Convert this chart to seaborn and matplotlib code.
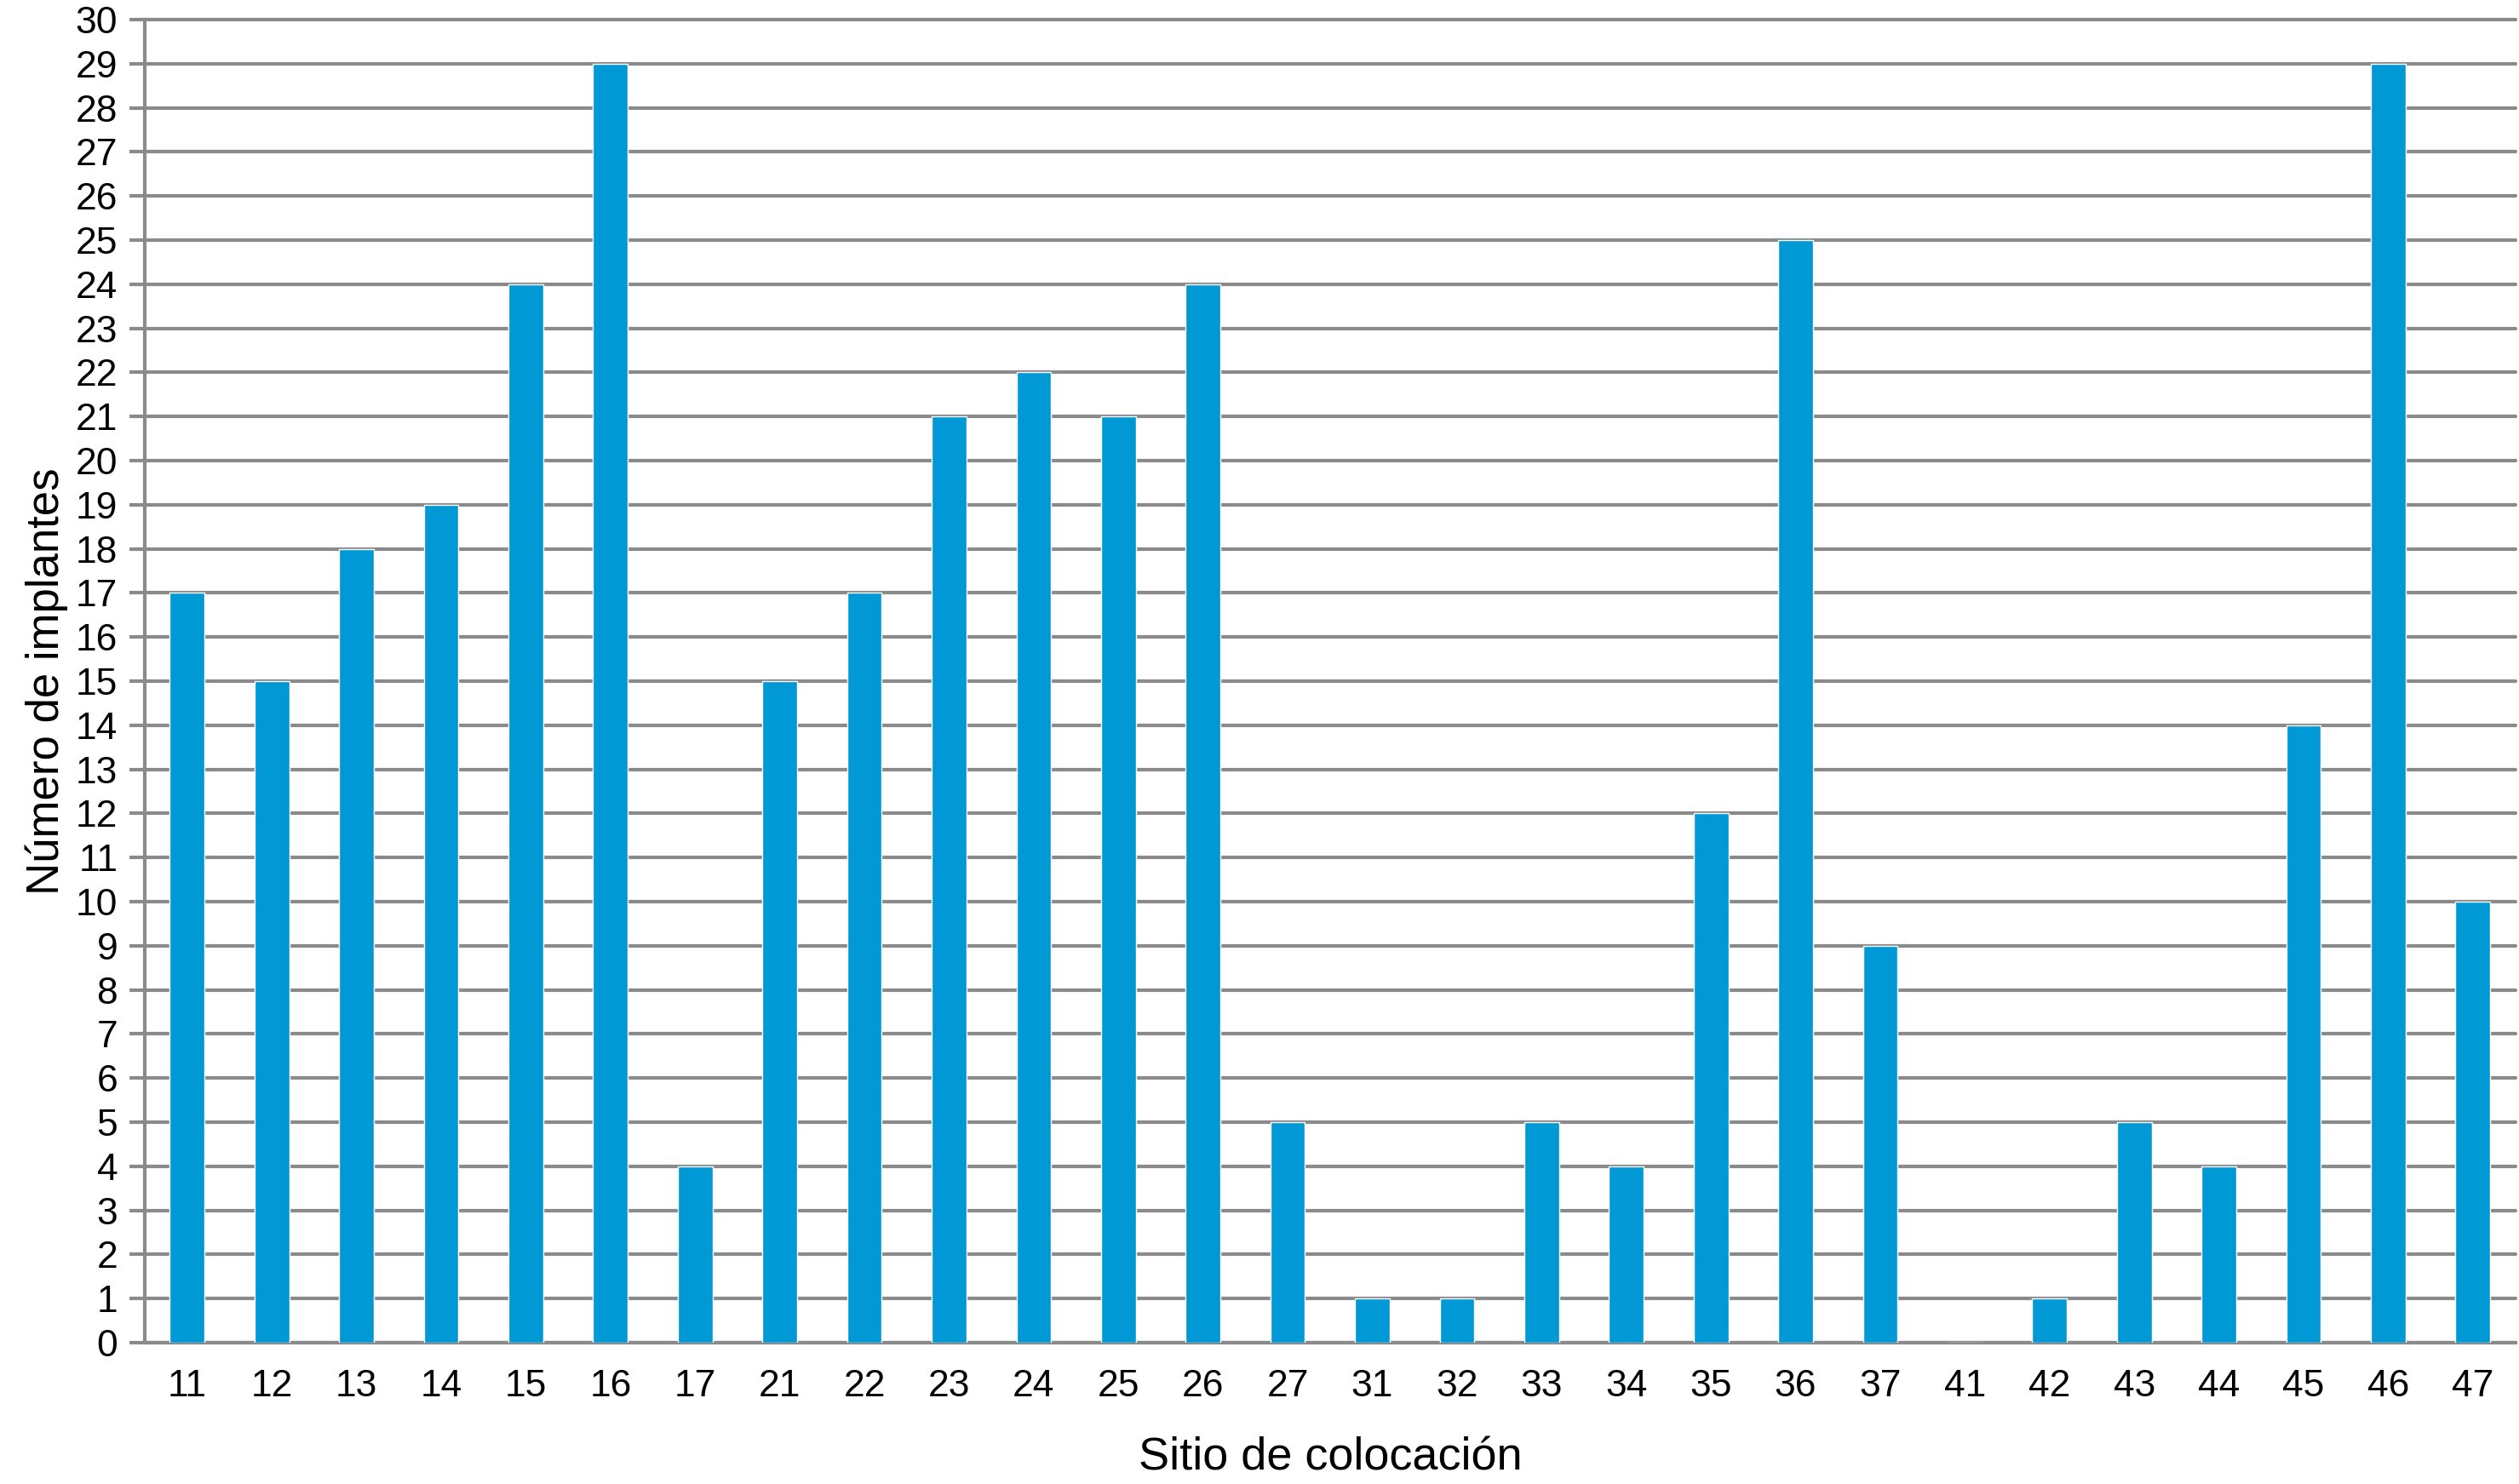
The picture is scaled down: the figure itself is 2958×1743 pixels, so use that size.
import numpy as np
import pandas as pd
import matplotlib
matplotlib.use("Agg")
import matplotlib.pyplot as plt
import seaborn as sns

# Data
sitios = ["11", "12", "13", "14", "15", "16", "17",
          "21", "22", "23", "24", "25", "26", "27",
          "31", "32", "33", "34", "35", "36", "37",
          "41", "42", "43", "44", "45", "46", "47"]
implantes = [17, 15, 18, 19, 24, 29, 4,
             15, 17, 21, 22, 21, 24, 5,
             1, 1, 5, 4, 12, 25, 9,
             0, 1, 5, 4, 14, 29, 10]

df = pd.DataFrame({"Sitio": sitios, "Implantes": implantes})

sns.set_style("white")
plt.rcParams["font.family"] = ["Liberation Sans", "DejaVu Sans"]
plt.rcParams["text.color"] = "black"
plt.rcParams["xtick.labelcolor"] = "black"
plt.rcParams["ytick.labelcolor"] = "black"
plt.rcParams["axes.labelcolor"] = "black"

grid_color = "#8a8a8a"

fig = plt.figure(figsize=(29.58, 17.43), dpi=100)
ax = fig.add_axes([0.0575, 0.0952, 0.941, 0.8916])

sns.barplot(data=df, x="Sitio", y="Implantes", order=sitios,
            color="#0099d6", saturation=1, width=0.41, ax=ax, zorder=3)

ax.set_ylim(0, 30)
ax.set_xlim(-0.5, len(sitios) - 0.5)
ax.set_yticks(np.arange(0, 31, 1))
ax.yaxis.grid(True, color=grid_color, linewidth=3, zorder=0)
ax.set_axisbelow(True)
for gl in ax.get_ygridlines():
    gl.set_clip_on(False)

# ticks between categories
ax.set_xticks(np.arange(-0.5, len(sitios), 1), minor=True)
ax.tick_params(axis="x", which="minor", length=13, width=3, color=grid_color, direction="out")
ax.tick_params(axis="x", which="major", length=0, labelsize=32, pad=22)
ax.tick_params(axis="y", length=13, width=3, color=grid_color, direction="out",
               labelsize=32, pad=10, left=True)

for side in ["top", "right"]:
    ax.spines[side].set_visible(False)
for side in ["left", "bottom"]:
    ax.spines[side].set_color(grid_color)
    ax.spines[side].set_linewidth(3)

ax.set_xlabel("Sitio de colocación", fontsize=39, labelpad=28)
ax.set_ylabel("Número de implantes", fontsize=38, labelpad=6)

fig.savefig("out.png", dpi=100)
